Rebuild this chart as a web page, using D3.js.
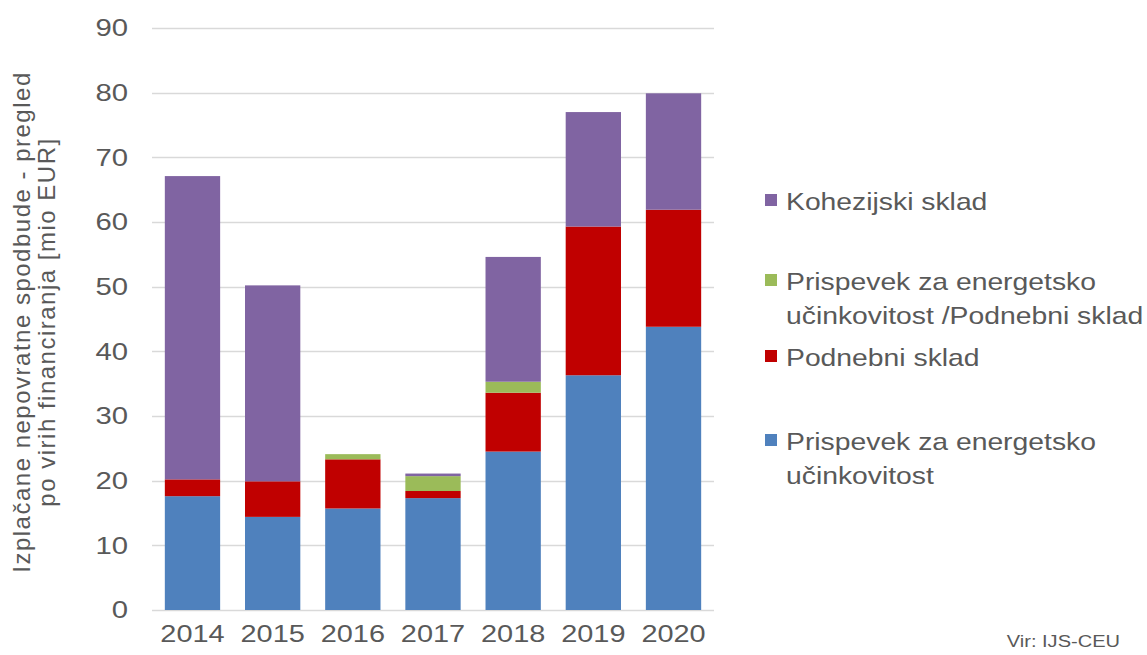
<!DOCTYPE html>
<html>
<head>
<meta charset="utf-8">
<script src="https://cdn.jsdelivr.net/npm/d3@7"></script>
<style>
  body { margin: 0; background: #fff; }
  text { font-family: "Liberation Sans", Arial, sans-serif; fill: #595959; }
</style>
</head>
<body>
<script>
// data (mio EUR)
var years = ["2014", "2015", "2016", "2017", "2018", "2019", "2020"];
var prispevek = [17.6, 14.4, 15.7, 17.3, 24.5, 36.3, 43.8];
var podnebni = [2.6, 5.5, 7.6, 1.1, 9.1, 23.0, 18.1];
var prispevekPodnebni = [0, 0, 0.8, 2.3, 1.7, 0, 0];
var kohezijski = [46.9, 30.3, 0, 0.4, 19.3, 17.7, 18.0];
var yTicks = [0, 10, 20, 30, 40, 50, 60, 70, 80, 90];

var seriesKeys = ["prispevek", "podnebni", "prispevekPodnebni", "kohezijski"];
var seriesNames = {
  prispevek: ["Prispevek za energetsko", "učinkovitost"],
  podnebni: ["Podnebni sklad"],
  prispevekPodnebni: ["Prispevek za energetsko", "učinkovitost /Podnebni sklad"],
  kohezijski: ["Kohezijski sklad"]
};
var colors = {
  prispevek: "#4f81bd",
  podnebni: "#c00000",
  prispevekPodnebni: "#9bbb59",
  kohezijski: "#8064a2"
};

var width = 1147;
var height = 655;
var stretch = 1.18; // the source text is drawn wider than normal

var rows = years.map(function (y, i) {
  return {
    year: y,
    prispevek: prispevek[i],
    podnebni: podnebni[i],
    prispevekPodnebni: prispevekPodnebni[i],
    kohezijski: kohezijski[i]
  };
});

var svg = d3.select("body").append("svg")
  .attr("width", width)
  .attr("height", height);

var x = d3.scaleBand().domain(years).range([152, 714]).paddingInner(0.31).paddingOuter(0.16);
var y = d3.scaleLinear().domain([0, 90]).range([610, 28]);

// gridlines
svg.append("g")
  .selectAll("line")
  .data(yTicks)
  .enter()
  .append("line")
  .attr("x1", 152)
  .attr("x2", 714)
  .attr("y1", function (d) { return Math.round(y(d)) + 0.5; })
  .attr("y2", function (d) { return Math.round(y(d)) + 0.5; })
  .attr("stroke", "#d9d9d9")
  .attr("stroke-width", 1.3);

var stack = d3.stack().keys(seriesKeys);
var stacked = stack(rows);

svg.append("g")
  .selectAll("g")
  .data(stacked)
  .enter()
  .append("g")
  .attr("fill", function (d) { return colors[d.key]; })
  .selectAll("rect")
  .data(function (d) { return d; })
  .enter()
  .append("rect")
  .attr("x", function (d) { return x(d.data.year); })
  .attr("width", x.bandwidth())
  .attr("y", function (d) { return y(d[1]); })
  .attr("height", function (d) { return y(d[0]) - y(d[1]); });

// y axis labels
var yAxis = svg.append("g")
  .attr("transform", "translate(128,0)")
  .call(d3.axisLeft(y).tickValues(yTicks).tickSize(0).tickPadding(0));
yAxis.select(".domain").remove();
yAxis.selectAll("text")
  .attr("transform", "scale(1.22,1)")
  .style("font-size", "24px")
  .style("font-family", "Liberation Sans, Arial, sans-serif")
  .attr("fill", "#5f5f5f");

// x axis labels
var xAxis = svg.append("g")
  .attr("transform", "translate(0,610)")
  .call(d3.axisBottom(x).tickSize(0).tickPadding(15));
xAxis.select(".domain").remove();
xAxis.selectAll("text")
  .attr("transform", "scale(" + stretch + ",1)")
  .style("font-size", "24.5px")
  .style("font-family", "Liberation Sans, Arial, sans-serif")
  .attr("fill", "#5f5f5f");

// y axis title
var title = svg.append("text")
  .attr("transform", "translate(30,322) rotate(-90)")
  .attr("text-anchor", "middle")
  .style("font-size", "24px")
  .style("letter-spacing", "1.5px");
title.append("tspan").attr("x", 0).attr("dy", 0).text("Izplačane nepovratne spodbude - pregled");
title.append("tspan").attr("x", 0).attr("dy", 25).text("po virih financiranja [mio EUR]");

// legend
var legendItems = [
  { key: "kohezijski", y: 202 },
  { key: "prispevekPodnebni", y: 282 },
  { key: "podnebni", y: 358 },
  { key: "prispevek", y: 442 }
];

var legend = svg.append("g").selectAll("g")
  .data(legendItems)
  .enter()
  .append("g")
  .attr("transform", function (d) { return "translate(765," + d.y + ")"; });

legend.append("rect")
  .attr("x", 0)
  .attr("y", -8)
  .attr("width", 12)
  .attr("height", 12)
  .attr("fill", function (d) { return colors[d.key]; });

legend.append("text")
  .attr("transform", "translate(21,0) scale(" + stretch + ",1)")
  .style("font-size", "24px")
  .each(function (d) {
    var t = d3.select(this);
    seriesNames[d.key].forEach(function (line, i) {
      t.append("tspan").attr("x", 0).attr("dy", i === 0 ? "0.35em" : "1.42em").text(line);
    });
  });

svg.append("text")
  .attr("transform", "translate(1120,647) scale(" + stretch + ",1)")
  .attr("text-anchor", "end")
  .style("font-size", "17px")
  .text("Vir: IJS-CEU");
</script>
</body>
</html>
